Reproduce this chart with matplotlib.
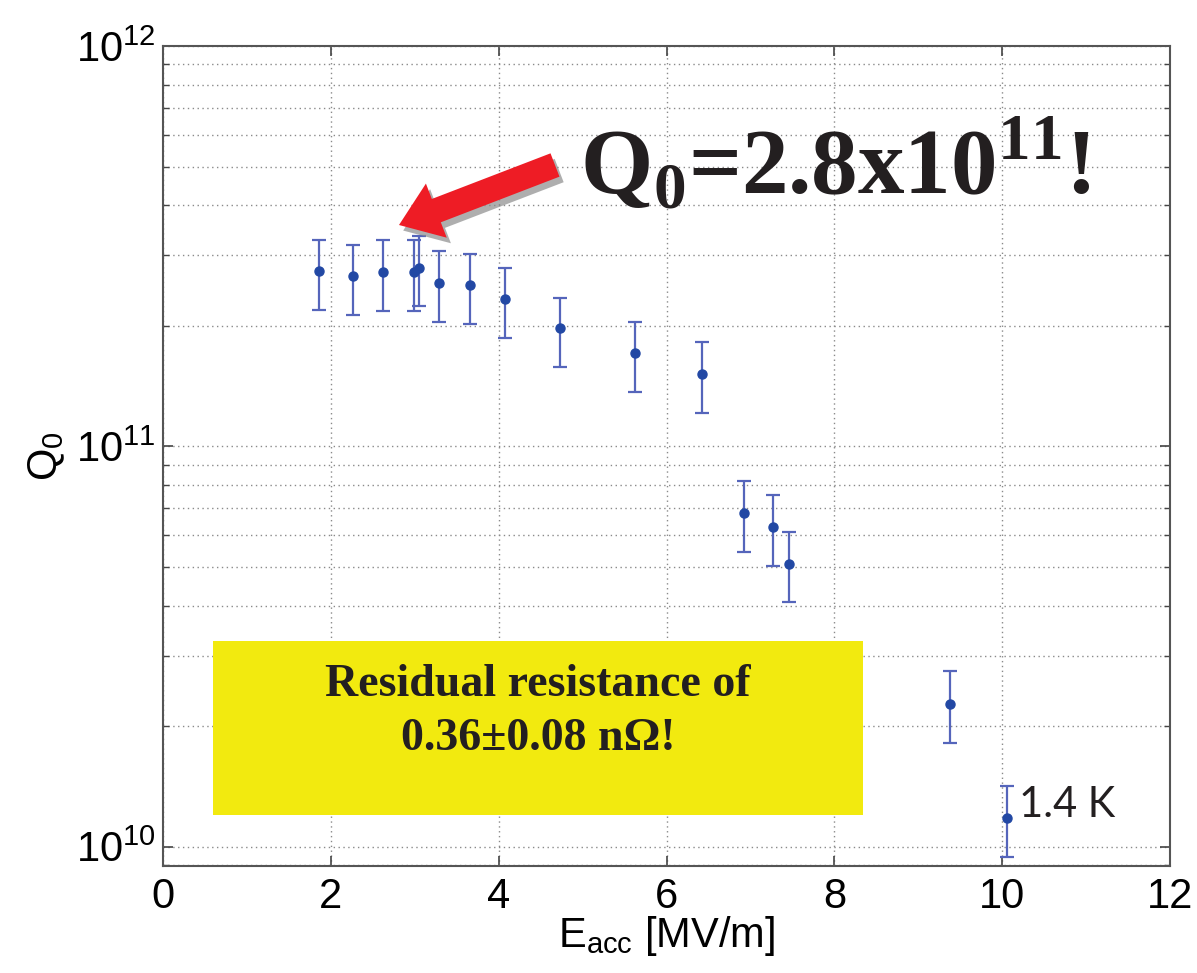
import matplotlib
matplotlib.use("Agg")
import matplotlib.pyplot as plt
import matplotlib.patches as mpatches
import matplotlib.patheffects as pe
from matplotlib.transforms import Affine2D
from matplotlib.ticker import LogLocator, NullFormatter

# ---- data ----
e_acc = [1.86, 2.26, 2.62, 2.99, 3.05, 3.29, 3.66, 4.08, 4.73, 5.63, 6.42, 6.92, 7.27, 7.46, 9.38, 10.06]
q0 = [2.74e11, 2.66e11, 2.73e11, 2.73e11, 2.79e11, 2.56e11, 2.53e11, 2.34e11, 1.97e11, 1.71e11, 1.52e11,
      6.80e10, 6.30e10, 5.09e10, 2.27e10, 1.18e10]
q0_hi = [3.28e11, 3.18e11, 3.28e11, 3.27e11, 3.35e11, 3.08e11, 3.03e11, 2.79e11, 2.35e11, 2.05e11, 1.82e11,
         8.17e10, 7.56e10, 6.10e10, 2.74e10, 1.42e10]
q0_lo = [2.19e11, 2.13e11, 2.18e11, 2.18e11, 2.24e11, 2.05e11, 2.02e11, 1.87e11, 1.58e11, 1.37e11, 1.21e11,
         5.45e10, 5.03e10, 4.08e10, 1.82e10, 9.44e9]
xticks = [0, 2, 4, 6, 8, 10, 12]

W, H = 1197, 973
plt.rcParams['mathtext.fontset'] = 'custom'
plt.rcParams['mathtext.rm'] = 'Liberation Sans'
plt.rcParams['mathtext.it'] = 'Liberation Sans:italic'
plt.rcParams['mathtext.bf'] = 'Liberation Sans:bold'

fig = plt.figure(figsize=(W / 100, H / 100), dpi=100)
ax = fig.add_axes([163 / W, 1 - 866 / H, (1170 - 163) / W, (866 - 46) / H])

lower = [v - l for v, l in zip(q0, q0_lo)]
upper = [h - v for v, h in zip(q0, q0_hi)]
ax.errorbar(e_acc, q0, yerr=[lower, upper], fmt='o', color='#2248a4', markersize=6.5,
            ecolor='#5565bb', elinewidth=1.6, capsize=5, capthick=1.6, zorder=3)

ax.set_yscale('log')
ax.set_xlim(0, 12)
ax.set_ylim(8.95e9, 1e12)
ax.set_xticks(xticks)
ax.set_xticklabels([str(t) for t in xticks])
ax.yaxis.set_major_locator(LogLocator(base=10, numticks=10))
ax.yaxis.set_minor_locator(LogLocator(base=10, subs=range(2, 10), numticks=20))
ax.yaxis.set_minor_formatter(NullFormatter())

ax.tick_params(axis='both', which='major', direction='in', length=7, width=1.2, colors='#444444',
               labelcolor='black', labelsize=30, top=True, right=True)
ax.tick_params(axis='x', which='major', pad=8)
ax.tick_params(axis='y', which='major', pad=5)
ax.tick_params(axis='y', which='minor', direction='in', length=4, width=1.0, colors='#444444', right=True)
for lab in ax.get_xticklabels() + ax.get_yticklabels():
    lab.set_fontfamily('Liberation Sans')

for s in ax.spines.values():
    s.set_color('#555555')
    s.set_linewidth(1.5)

ax.grid(True, which='major', axis='both', color='#8a8a8a', linestyle=(0, (1, 2.5)), linewidth=1.0)
ax.grid(True, which='minor', axis='y', color='#8a8a8a', linestyle=(0, (1, 2.5)), linewidth=1.0)
ax.set_axisbelow(True)

ax.set_xlabel(r'$\mathregular{E_{acc}}$ [MV/m]', fontsize=30, fontfamily='Liberation Sans')
ax.xaxis.set_label_coords(0.5, -0.058)
ax.set_ylabel(r'$\mathregular{Q_0}$', fontsize=30, fontfamily='Liberation Sans')
ax.yaxis.set_label_coords(-0.095, 0.5)

# pixel -> figure transform
pix = Affine2D().scale(1 / W, 1 / H) + fig.transFigure

# yellow box
box = mpatches.Rectangle((213, H - 815), 650, 174, facecolor='#F2EA0F', edgecolor='none',
                         transform=pix, zorder=5)
fig.add_artist(box)
fig.text(538, H - 712, 'Residual resistance of\n0.36\u00b10.08 n\u03a9!', transform=pix,
         ha='center', va='center', fontsize=33, fontweight='bold', fontfamily='Liberation Serif',
         color='#231f20', linespacing=1.38, zorder=6)

# red arrow with shadow
arrow = mpatches.FancyArrow(555, H - 165, -156, -60, width=25, head_width=58, head_length=40,
                            length_includes_head=True, facecolor='#EE1C25', edgecolor='none',
                            transform=pix, zorder=7)
arrow.set_path_effects([pe.SimplePatchShadow(offset=(3, -4), shadow_rgbFace='0.55', alpha=0.7),
                        pe.Normal()])
fig.add_artist(arrow)

fig.text(580, H - 193, r'Q$_{\mathregular{0}}$=2.8x10$^{\mathregular{11}}$!', transform=pix,
         ha='left', va='baseline', fontsize=67, fontweight='bold', fontfamily='Liberation Serif',
         color='#231f20', zorder=7)

fig.text(1019, H - 817, '1.4 K', transform=pix, ha='left', va='baseline', fontsize=30,
         fontfamily='Lato', color='#231f20', zorder=7)

fig.savefig('out.png', dpi=100)
